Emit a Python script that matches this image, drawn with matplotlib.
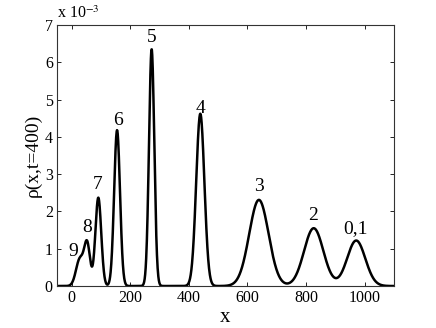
import numpy as np
import matplotlib
matplotlib.use("Agg")
import matplotlib.pyplot as plt

# Peaks of the density profile (x in data units, heights in 1e-3)
peak_labels = ["9", "8", "7", "6", "5", "4", "3", "2", "0,1"]
peak_centers = [28, 53, 91, 155, 273, 439, 639, 826, 971]
peak_heights = [0.72, 1.10, 2.37, 4.18, 6.35, 4.62, 2.31, 1.55, 1.22]
peak_widths = [13, 10, 10, 10, 9, 14, 33, 33, 31]

# Label positions (data coords)
label_x = [7, 54, 88, 159, 274, 441, 640, 824, 968]
label_y = [0.93, 1.57, 2.73, 4.45, 6.67, 4.77, 2.68, 1.88, 1.55]

x_ticks = [0, 200, 400, 600, 800, 1000]
y_ticks = [0, 1, 2, 3, 4, 5, 6, 7]

plt.rcParams['font.family'] = ['Liberation Serif', 'DejaVu Serif']
plt.rcParams['mathtext.fontset'] = 'stix'

x = np.linspace(-50, 1100, 2000)
rho = np.zeros_like(x)
for c, h, w in zip(peak_centers, peak_heights, peak_widths):
    rho += h * np.exp(-(x - c) ** 2 / (2 * w ** 2))

fig = plt.figure(figsize=(4.36, 3.28), dpi=100)
ax = fig.add_axes([0.1307, 0.128, 0.7730, 0.7958])
ax.plot(x, rho, color='black', linewidth=1.8)

for lab, lx, ly in zip(peak_labels, label_x, label_y):
    ax.text(lx, ly, lab, fontsize=14, ha='center', va='center')

ax.set_xlim(-50, 1100)
ax.set_ylim(0, 7)
ax.set_xticks(x_ticks)
ax.set_yticks(y_ticks)
ax.tick_params(direction='in', top=True, right=True, labelsize=11.5,
               length=3, width=0.6, pad=3)
for s in ax.spines.values():
    s.set_linewidth(0.8)
    s.set_color('#333333')

ax.set_xlabel('x', fontsize=15, labelpad=1)
ax.set_ylabel(r'ρ(x,t=400)', fontsize=14, labelpad=2)
ax.text(0.0, 1.01, r'x 10$^{-3}$', transform=ax.transAxes, fontsize=11.5,
        ha='left', va='bottom')

fig.savefig('out.png', dpi=100)
